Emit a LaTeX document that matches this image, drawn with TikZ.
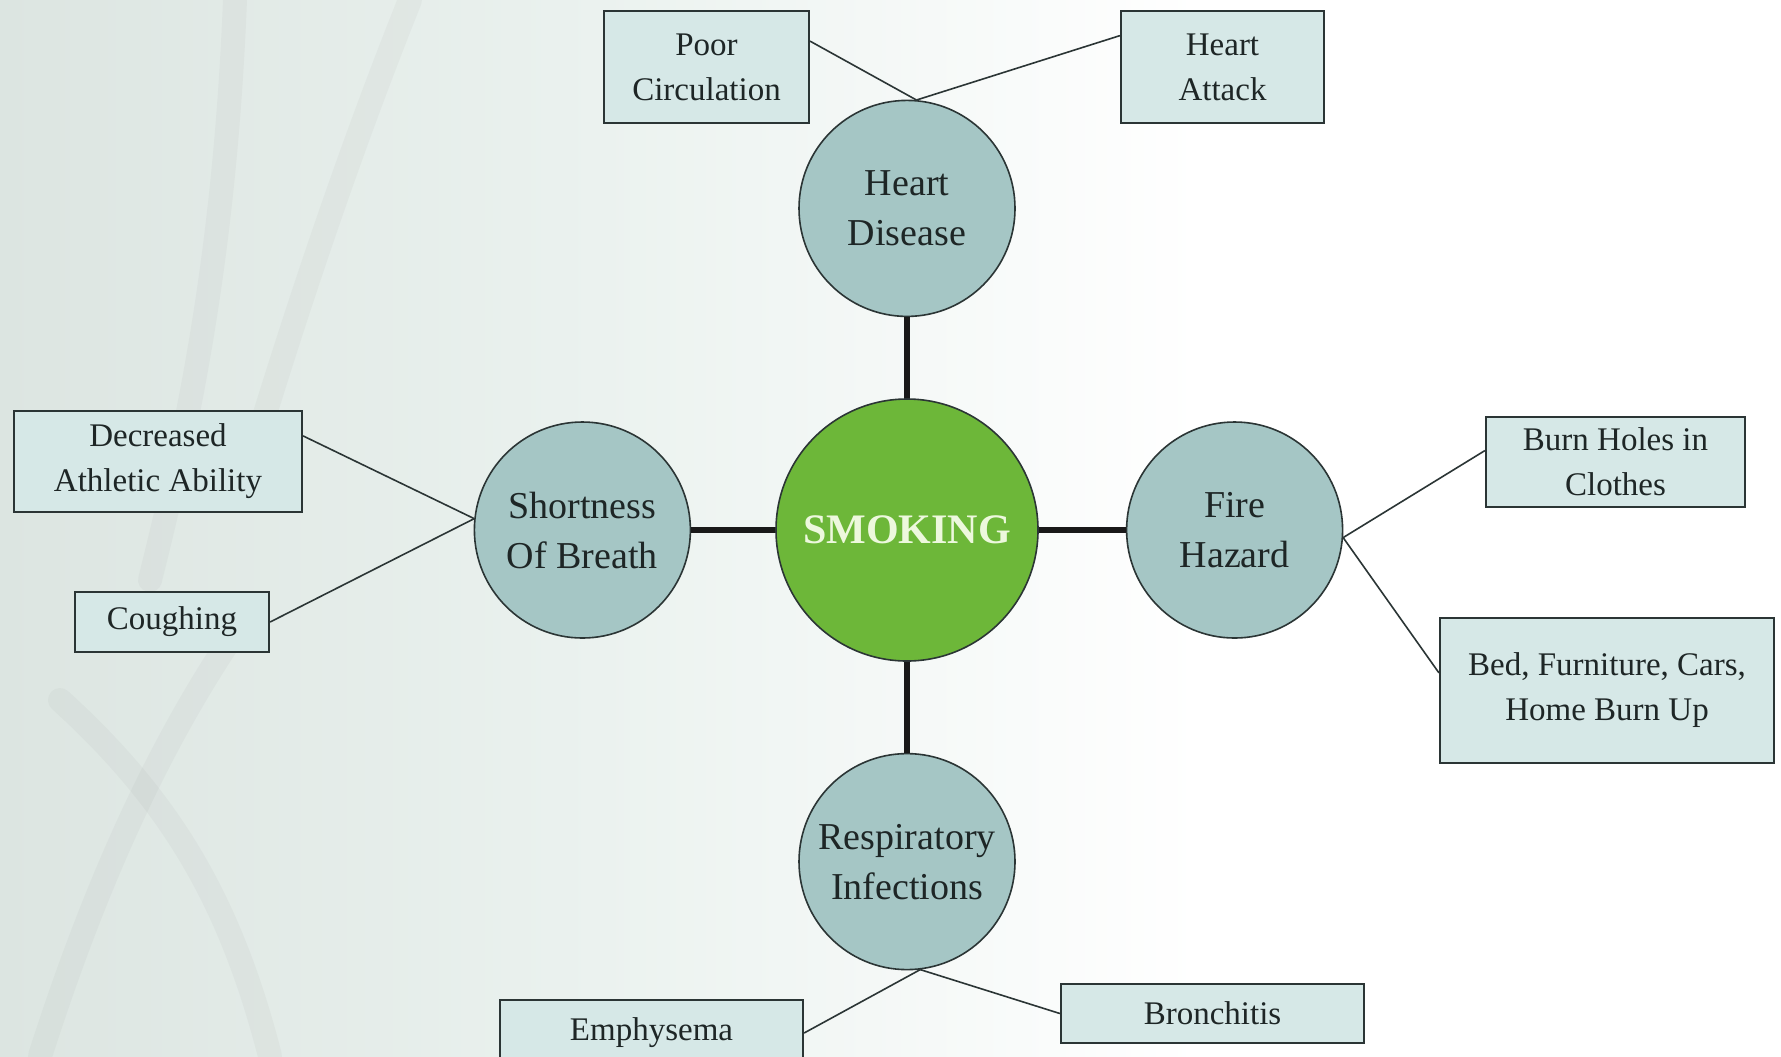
\documentclass[tikz,border=0pt]{standalone}
\usepackage{fontspec}
\setmainfont{Liberation Serif}
\usetikzlibrary{positioning,calc}
\definecolor{tealgrey}{HTML}{A5C6C5}
\definecolor{boxfill}{HTML}{D6E8E7}
\definecolor{leafgreen}{HTML}{6DB739}
\definecolor{smoketext}{HTML}{EDF8DD}
\definecolor{edgegrey}{HTML}{2B3535}
\definecolor{inkgrey}{HTML}{1E2626}
\definecolor{bgleft}{HTML}{DCE5E1}
\definecolor{bgmid}{HTML}{EBF2EF}
\tikzset{
    cause/.style={draw=edgegrey, line width=0.8pt, circle, fill=leafgreen, minimum size=131pt, font=\fontsize{21}{25}\selectfont\bfseries, text=smoketext},
    effect/.style={draw=edgegrey, line width=0.8pt, circle, fill=tealgrey, minimum size=108pt, align=center, font=\fontsize{19}{25}\selectfont, text=inkgrey},
    detail/.style={draw=edgegrey, line width=1.1pt, rectangle, fill=boxfill, align=center, inner sep=0pt, font=\fontsize{16.5}{22.5}\selectfont, text=inkgrey},
    link/.style={line width=2.8pt, black!90},
    branch/.style={line width=0.8pt, edgegrey},
    strand/.style={line width=12pt, gray, opacity=0.06, line cap=round}
}
\begin{document}
\begin{tikzpicture}[x=0.5pt, y=0.5pt]
                \clip (0,0) rectangle (1781,-1056);
                % background
                \fill[white] (0,0) rectangle (1781,-1056);
                \shade[left color=bgleft, right color=white, middle color=bgmid] (0,0) rectangle (1200,-1056);
                \draw[strand] (235,0) .. controls (225,-250) and (190,-420) .. (150,-580);
                \draw[strand] (410,0) .. controls (350,-150) and (300,-300) .. (260,-430);
                \draw[strand] (40,-1056) .. controls (90,-900) and (150,-760) .. (230,-640);
                \draw[strand] (270,-1056) .. controls (230,-900) and (170,-800) .. (60,-700);

                \node[cause] (smoking) at (907,-530) {SMOKING};
                \node[effect, above=40.5pt of smoking] (heart) {Heart\\Disease};
                \node[effect, below=45.5pt of smoking] (resp) {Respiratory\\Infections};
                \node[effect, left=42pt of smoking] (breath) {Shortness\\Of Breath};
                \node[effect, right=43.5pt of smoking] (fire) {Fire\\Hazard};

                \node[detail, minimum width=102.5pt, minimum height=56pt] (circ) at (706.5,-67) {Poor\\Circulation};
                \node[detail, minimum width=101.5pt, minimum height=56pt] (attack) at (1222.5,-67) {Heart\\Attack};
                \node[detail, minimum width=144pt, minimum height=50.5pt] (athletic) at (158,-461.5) {Decreased\\Athletic Ability};
                \node[detail, minimum width=97pt, minimum height=30pt] (cough) at (172,-622) {Coughing};
                \node[detail, minimum width=129.5pt, minimum height=45pt] (holes) at (1615.5,-462) {Burn Holes in\\Clothes};
                \node[detail, minimum width=167pt, minimum height=72.5pt] (burnup) at (1607,-690.5) {Bed, Furniture, Cars,\\Home Burn Up};
                \node[detail, minimum width=151.5pt, minimum height=33pt] (emph) at (651.5,-1033) {Emphysema};
                \node[detail, minimum width=151.5pt, minimum height=29.5pt] (bronch) at (1212.5,-1013.5) {Bronchitis};

                \draw[link] (smoking) -- (heart);
                \draw[link] (smoking) -- (resp);
                \draw[link] (smoking) -- (breath);
                \draw[link] (smoking) -- (fire);

                \draw[branch] (heart.85) -- (circ.14);
                \draw[branch] (heart.85) -- (attack.163);
                \draw[branch] (breath.174) -- (athletic.10);
                \draw[branch] (breath.174) -- (cough.east);
                \draw[branch] (fire.-4) -- (holes.175);
                \draw[branch] (fire.-4) -- (burnup.174);
                \draw[branch] (resp.-83) -- (emph.east);
                \draw[branch] (resp.-83) -- (bronch.west);
            \end{tikzpicture}
\end{document}
